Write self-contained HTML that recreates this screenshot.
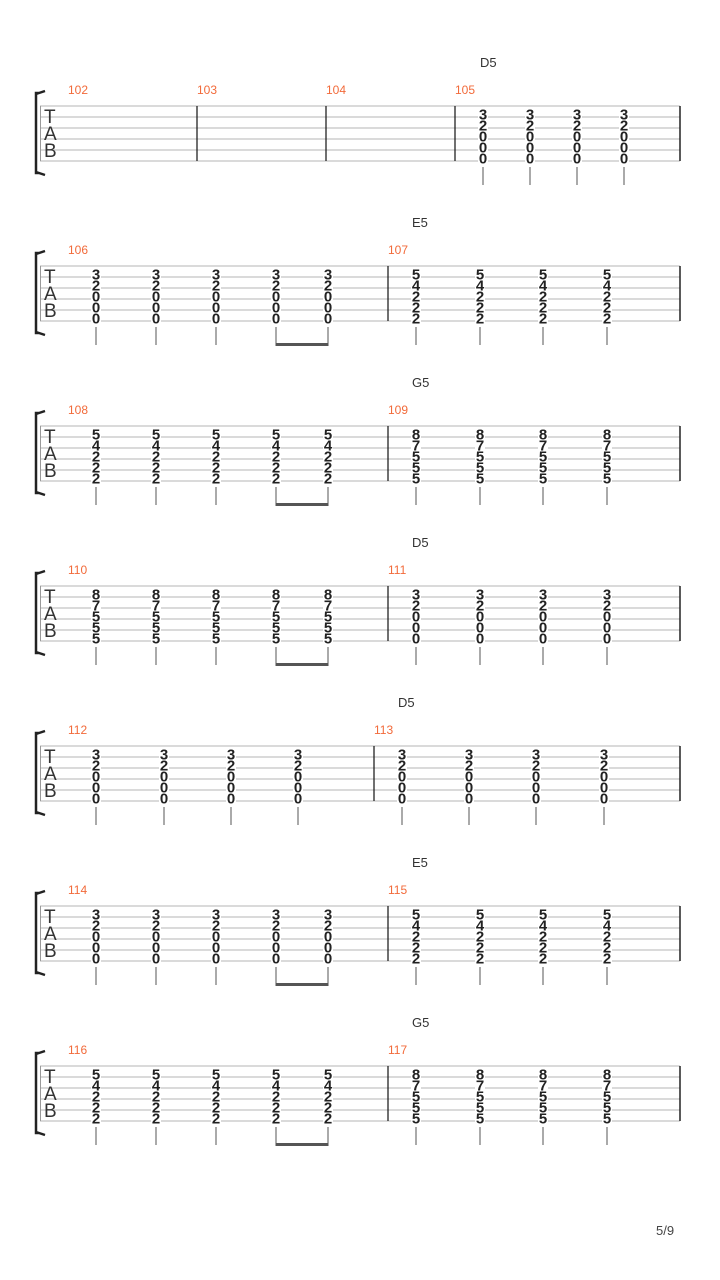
<!DOCTYPE html>
<html><head><meta charset="utf-8"><style>
html,body{margin:0;padding:0;background:#fff;}
svg{display:block;font-family:"Liberation Sans",sans-serif;}
</style></head><body>
<svg id="s" width="720" height="1280" xmlns="http://www.w3.org/2000/svg">
<text x="656" y="1235" font-size="13" fill="#444">5/9</text>
</svg>
<script>
const S=document.getElementById('s');const NS='http://www.w3.org/2000/svg';
function el(t,a,txt){const e=document.createElementNS(NS,t);for(const k in a)e.setAttribute(k,a[k]);if(txt!==undefined)e.textContent=txt;S.appendChild(e);return e;}
const A=[3,2,0,0,0],E=[5,4,2,2,2],G=[8,7,5,5,5],B=[5,4,2,2,2],H=[8,7,5,5,5];
const sys=[
 {bars:[197,326,455],nums:[[68,'102'],[197,'103'],[326,'104'],[455,'105']],chord:[480,'D5'],notes:[[483,A],[530,A],[577,A],[624,A]],beam:null},
 {bars:[388],nums:[[68,'106'],[388,'107']],chord:[412,'E5'],notes:[[96,A],[156,A],[216,A],[276,A],[328,A],[416,E],[480,E],[543,E],[607,E]],beam:[276,328]},
 {bars:[388],nums:[[68,'108'],[388,'109']],chord:[412,'G5'],notes:[[96,B],[156,B],[216,B],[276,B],[328,B],[416,H],[480,H],[543,H],[607,H]],beam:[276,328]},
 {bars:[388],nums:[[68,'110'],[388,'111']],chord:[412,'D5'],notes:[[96,H],[156,H],[216,H],[276,H],[328,H],[416,A],[480,A],[543,A],[607,A]],beam:[276,328]},
 {bars:[374],nums:[[68,'112'],[374,'113']],chord:[398,'D5'],notes:[[96,A],[164,A],[231,A],[298,A],[402,A],[469,A],[536,A],[604,A]],beam:null},
 {bars:[388],nums:[[68,'114'],[388,'115']],chord:[412,'E5'],notes:[[96,A],[156,A],[216,A],[276,A],[328,A],[416,E],[480,E],[543,E],[607,E]],beam:[276,328]},
 {bars:[388],nums:[[68,'116'],[388,'117']],chord:[412,'G5'],notes:[[96,B],[156,B],[216,B],[276,B],[328,B],[416,H],[480,H],[543,H],[607,H]],beam:[276,328]},
];
sys.forEach((s,i)=>{
 const t=106+i*160;
 for(let k=0;k<6;k++)el('line',{x1:40,x2:680,y1:t+k*11,y2:t+k*11,stroke:'#b4b4b4','stroke-width':1});
 el('line',{x1:40.5,x2:40.5,y1:t,y2:t+55,stroke:'#999','stroke-width':1});
 el('path',{d:`M39 ${t-13} L36 ${t-13} L36 ${t+67} L39 ${t+67} M36 ${t-12} L45 ${t-15} M36 ${t+66} L45 ${t+69}`,stroke:'#222','stroke-width':2.5,fill:'none'});
 el('text',{x:44,y:t+17,'font-size':19,fill:'#333'},'T');
 el('text',{x:44,y:t+34,'font-size':19,fill:'#333'},'A');
 el('text',{x:44,y:t+51,'font-size':19,fill:'#333'},'B');
 s.bars.forEach(x=>el('line',{x1:x,x2:x,y1:t,y2:t+55,stroke:'#222','stroke-width':1.3}));
 el('line',{x1:680,x2:680,y1:t,y2:t+55,stroke:'#222','stroke-width':1.5});
 s.nums.forEach(([x,n])=>el('text',{x:x,y:t-12,'font-size':12,fill:'#f26a3a'},n));
 el('text',{x:s.chord[0],y:t-39,'font-size':13,fill:'#333'},s.chord[1]);
 s.notes.forEach(([x,ch])=>{
  ch.forEach((d,k)=>{
   el('rect',{x:x-5,y:t+3+k*11,width:10,height:11,fill:'#fff'});
   el('text',{x:x,y:t+13.5+k*11,'font-size':15,'font-weight':'bold','text-anchor':'middle',fill:'#222'},d);
  });
  el('line',{x1:x,x2:x,y1:t+61,y2:t+79,stroke:'#555','stroke-width':1});
 });
 if(s.beam){const[a,b]=s.beam;el('rect',{x:a-0.5,y:t+77,width:b-a+1,height:3,fill:'#555'});}
});
</script>
</body></html>
